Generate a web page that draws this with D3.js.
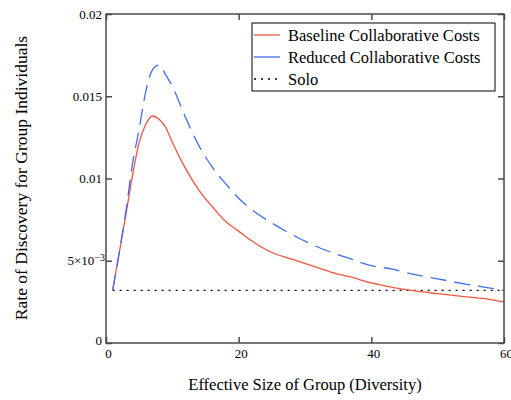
<!DOCTYPE html>
<html>
<head>
<meta charset="utf-8">
<script src="https://cdn.jsdelivr.net/npm/d3@7"></script>
<style>
  html, body { margin: 0; padding: 0; background: #fff; }
  svg { display: block; }
  svg text { font-family: "Liberation Serif", "Tinos", "Times New Roman", "DejaVu Serif", serif !important; }
</style>
</head>
<body>
<svg id="chart" width="511" height="400"></svg>
<script>
// ---- data ----
const groupSize = [1,2,3,4,5,6,7,8,9,10,12,14,16,18,20,22,25,28,31,34,37,40,43,46,50,54,57,60];
const baseline  = [0.0032,0.0055,0.0078,0.0102,0.0122,0.0133,0.0138,0.0136,0.0131,0.0122,0.0106,0.0093,0.0083,0.0074,0.0068,0.0062,0.0055,0.0051,0.0047,0.0043,0.0040,0.00365,0.0034,0.0032,0.0030,0.00282,0.0027,0.0025];
const reduced   = [0.0032,0.0055,0.0080,0.0109,0.0130,0.0153,0.0166,0.0169,0.0163,0.0156,0.0137,0.0120,0.0107,0.0097,0.0088,0.0081,0.0073,0.0066,0.0060,0.0055,0.0051,0.0047,0.0045,0.0042,0.0039,0.0036,0.0034,0.0032];
const soloX     = [1,60];
const soloY     = [0.0032,0.0032];
const xTicks    = [0,20,40,60];
const xTickLabels = ["0","20","40","60"];
const yTicks    = [0,0.005,0.01,0.015,0.02];
const yTickLabels = ["0","5×10^-3","0.01","0.015","0.02"];
const seriesNames = ["Baseline Collaborative Costs","Reduced Collaborative Costs","Solo"];
const xTitle = "Effective Size of Group (Diversity)";
const yTitle = "Rate of Discovery for Group Individuals";

// ---- layout ----
const FONT = '"Liberation Serif", "Tinos", "Times New Roman", "DejaVu Serif", serif';
const svg = d3.select("#chart");
const L = 106, R = 504, T = 14, B = 343;
const x = d3.scaleLinear().domain([0,60]).range([L,R]);
const y = d3.scaleLinear().domain([0,0.02]).range([B,T]);
const axisColor = "#4a4a4a";

// series
const line = d3.line().x(d => x(d[0])).y(d => y(d[1])).curve(d3.curveMonotoneX);
const plot = svg.append("g");
plot.append("path").datum(soloX.map((v,i)=>[v,soloY[i]]))
  .attr("d", d3.line().x(d=>x(d[0])).y(d=>y(d[1])))
  .attr("fill","none").attr("stroke","#000").attr("stroke-width",1.2).attr("stroke-dasharray","2,5");
plot.append("path").datum(groupSize.map((v,i)=>[v,baseline[i]]))
  .attr("d", line).attr("fill","none").attr("stroke","#f0553f").attr("stroke-width",1.3);
plot.append("path").datum(groupSize.map((v,i)=>[v,reduced[i]]))
  .attr("d", line).attr("fill","none").attr("stroke","#3f6ef0").attr("stroke-width",1.3)
  .attr("stroke-dasharray","16,8");

// axes
function styleAxis(g){
  g.attr("font-family", FONT);
  g.select(".domain").remove();
  g.selectAll(".tick line").attr("stroke",axisColor).attr("stroke-width",1.5);
  g.selectAll("text").attr("fill","#000").attr("font-size","13px").attr("font-family",FONT);
}
const gx = svg.append("g").attr("transform",`translate(0,${B})`)
  .call(d3.axisBottom(x).tickValues(xTicks).tickSizeInner(-6).tickSizeOuter(0).tickPadding(6)
    .tickFormat((d,i)=>xTickLabels[i]));
styleAxis(gx);
gx.selectAll("text").attr("dx","2");
const gy = svg.append("g").attr("transform",`translate(${L},0)`)
  .call(d3.axisLeft(y).tickValues(yTicks).tickSizeInner(-6).tickSizeOuter(0).tickPadding(4)
    .tickFormat((d,i)=>yTickLabels[i]));
styleAxis(gy);
gy.selectAll(".tick text").each(function(d,i){
  const s = yTickLabels[i];
  if (s.includes("^")) {
    const parts = s.split("^");
    const t = d3.select(this).text(null).attr("x",-1);
    t.append("tspan").text(parts[0]);
    t.append("tspan").text(parts[1].replace("-","−")).attr("dy","-0.45em").attr("font-size","10px");
  }
});
gy.selectAll(".tick").filter(d=>d===0).select("text").attr("dy","0.1em");
const gt = svg.append("g").attr("transform",`translate(0,${T})`)
  .call(d3.axisTop(x).tickValues(xTicks).tickSizeInner(-6).tickSizeOuter(0).tickFormat(""));
styleAxis(gt);
const gr = svg.append("g").attr("transform",`translate(${R},0)`)
  .call(d3.axisRight(y).tickValues(yTicks).tickSizeInner(-6).tickSizeOuter(0).tickFormat(""));
styleAxis(gr);

// frame
svg.append("rect").attr("x",L).attr("y",T).attr("width",R-L).attr("height",B-T)
  .attr("fill","none").attr("stroke",axisColor).attr("stroke-width",1.5);

// titles
svg.append("text").attr("x",305).attr("y",390).attr("text-anchor","middle")
  .attr("font-family",FONT).attr("font-size","16.5px").text(xTitle);
svg.append("text").attr("transform",`translate(27,178) rotate(-90)`)
  .attr("text-anchor","middle").attr("font-family",FONT).attr("font-size","17.5px").text(yTitle);

// legend
const lg = svg.append("g");
lg.append("rect").attr("x",252).attr("y",23).attr("width",243).attr("height",68)
  .attr("fill","#fff").attr("stroke","#000").attr("stroke-width",1);
const legStyles = [
  {color:"#f0553f", dash:null},
  {color:"#3f6ef0", dash:null},
  {color:"#000", dash:"2,5"}
];
seriesNames.forEach((name,i)=>{
  const yy = 35 + i*22;
  lg.append("line").attr("x1",254).attr("x2",280).attr("y1",yy).attr("y2",yy)
    .attr("stroke",legStyles[i].color).attr("stroke-width",1.3)
    .attr("stroke-dasharray",legStyles[i].dash);
  lg.append("text").attr("x",288).attr("y",yy+5.5).attr("font-family",FONT)
    .attr("font-size","16.5px").text(name);
});
</script>
</body>
</html>
